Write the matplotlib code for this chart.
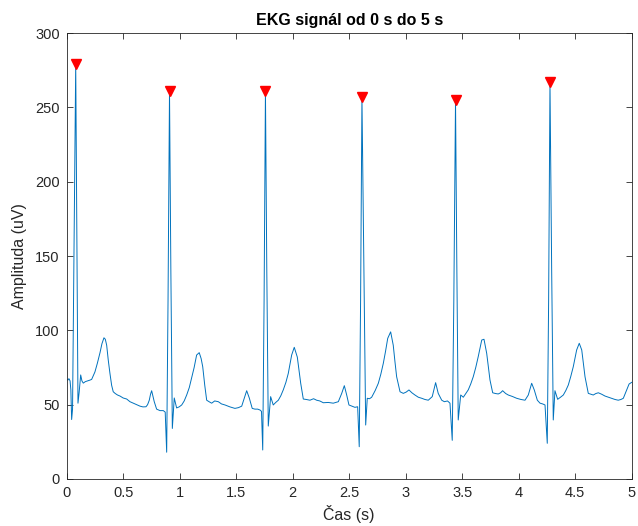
import matplotlib.pyplot as plt

# EKG samples (time in s, amplitude in uV)
t_s = [
    0.000, 0.010, 0.020, 0.030, 0.037, 0.044, 0.052, 0.062, 0.080, 0.090,
    0.100, 0.110, 0.124, 0.135, 0.147, 0.165, 0.185, 0.205, 0.221, 0.235,
    0.250, 0.272, 0.295, 0.312, 0.330, 0.342, 0.354, 0.368, 0.383, 0.398,
    0.412, 0.430, 0.450, 0.472, 0.500, 0.531, 0.560, 0.589, 0.620, 0.649,
    0.675, 0.702, 0.716, 0.731, 0.742, 0.752, 0.763, 0.775, 0.796, 0.826,
    0.855, 0.872, 0.885, 0.897, 0.910, 0.922, 0.935, 0.952, 0.973, 0.995,
    1.018, 1.040, 1.062, 1.085, 1.106, 1.128, 1.150, 1.173, 1.190, 1.204,
    1.222, 1.239, 1.260, 1.283, 1.310, 1.342, 1.370, 1.401, 1.445, 1.489,
    1.520, 1.549, 1.572, 1.593, 1.616, 1.642, 1.666, 1.690, 1.711, 1.724,
    1.735, 1.747, 1.759, 1.771, 1.784, 1.805, 1.828, 1.850, 1.873, 1.895,
    1.917, 1.940, 1.961, 1.991, 2.014, 2.041, 2.056, 2.071, 2.094, 2.120,
    2.153, 2.185, 2.212, 2.240, 2.271, 2.315, 2.359, 2.404, 2.434, 2.457,
    2.478, 2.498, 2.525, 2.551, 2.575, 2.589, 2.601, 2.613, 2.630, 2.646,
    2.660, 2.680, 2.699, 2.730, 2.758, 2.780, 2.802, 2.822, 2.841, 2.867,
    2.890, 2.905, 2.920, 2.950, 2.979, 3.005, 3.029, 3.055, 3.082, 3.112,
    3.142, 3.170, 3.200, 3.235, 3.265, 3.288, 3.319, 3.342, 3.370, 3.392,
    3.412, 3.426, 3.441, 3.453, 3.465, 3.487, 3.510, 3.532, 3.554, 3.576,
    3.598, 3.620, 3.642, 3.673, 3.693, 3.717, 3.732, 3.746, 3.770, 3.795,
    3.819, 3.840, 3.858, 3.885, 3.908, 3.945, 3.982, 4.020, 4.056, 4.085,
    4.115, 4.138, 4.165, 4.189, 4.212, 4.233, 4.253, 4.265, 4.277, 4.292,
    4.306, 4.321, 4.345, 4.370, 4.395, 4.417, 4.439, 4.461, 4.483, 4.513,
    4.536, 4.558, 4.572, 4.587, 4.616, 4.640, 4.660, 4.683, 4.705, 4.735,
    4.764, 4.795, 4.823, 4.852, 4.881, 4.905, 4.926, 4.956, 4.977, 5.000,
]
ekg_uv = [
    67.0, 66.5, 67.5, 66.0, 60.0, 40.0, 47.0, 130.0, 279.0, 160.0,
    51.0, 58.0, 70.0, 66.0, 64.5, 65.5, 66.0, 66.5, 67.0, 69.5,
    72.0, 78.0, 85.0, 91.0, 95.0, 94.0, 90.0, 80.0, 71.0, 63.0,
    58.7, 57.5, 56.5, 55.8, 54.5, 53.8, 52.0, 51.0, 50.0, 49.0,
    48.5, 48.6, 50.0, 53.0, 57.0, 59.4, 56.0, 52.0, 47.0, 46.0,
    46.0, 45.0, 18.0, 120.0, 261.0, 140.0, 34.0, 54.5, 47.8, 48.5,
    49.8, 52.5, 56.5, 61.5, 68.0, 75.0, 83.4, 85.0, 81.0, 75.5,
    63.0, 53.0, 52.0, 51.0, 52.5, 52.0, 50.5, 49.8, 48.5, 47.5,
    48.0, 49.0, 54.5, 59.4, 54.5, 47.5, 47.0, 47.0, 46.4, 45.5,
    19.5, 120.0, 261.0, 140.0, 35.6, 55.4, 49.8, 51.5, 53.0, 56.0,
    60.0, 65.0, 71.0, 83.4, 88.6, 82.0, 73.0, 64.4, 53.8, 53.5,
    53.0, 54.0, 53.0, 52.5, 51.3, 51.5, 51.0, 52.0, 57.6, 62.8,
    56.5, 49.8, 49.0, 48.2, 48.6, 21.7, 120.0, 257.0, 140.0, 36.3,
    54.3, 54.0, 55.0, 59.5, 64.4, 70.5, 77.8, 86.0, 94.6, 99.0,
    90.0, 79.0, 68.8, 58.7, 57.6, 58.5, 59.9, 58.0, 56.5, 55.0,
    54.3, 53.5, 53.0, 55.4, 64.8, 57.6, 53.0, 52.0, 52.5, 51.0,
    26.0, 120.0, 255.0, 140.0, 39.7, 56.5, 55.0, 57.5, 60.0, 64.0,
    68.8, 75.0, 82.3, 93.5, 94.0, 84.5, 75.0, 66.6, 58.0, 57.5,
    57.2, 58.0, 59.4, 57.5, 56.5, 55.5, 54.3, 53.5, 53.0, 56.5,
    64.4, 59.9, 53.0, 51.0, 50.5, 49.8, 24.0, 120.0, 267.0, 140.0,
    39.7, 59.4, 53.6, 55.0, 56.5, 59.5, 63.2, 69.0, 75.5, 86.8,
    91.3, 86.8, 78.0, 68.8, 57.6, 57.0, 56.5, 57.5, 58.0, 57.0,
    55.8, 55.0, 54.3, 53.5, 53.0, 53.5, 54.3, 59.9, 63.9, 65.0,
]

# detected R peaks
peak_t = [0.080, 0.910, 1.759, 2.613, 3.441, 4.277]
peak_uv = [279, 261, 261, 257, 255, 267]

x_ticks = [0, 0.5, 1, 1.5, 2, 2.5, 3, 3.5, 4, 4.5, 5]
x_labels = ['0', '0.5', '1', '1.5', '2', '2.5', '3', '3.5', '4', '4.5', '5']
y_ticks = [0, 50, 100, 150, 200, 250, 300]

plt.rcParams['font.family'] = ['Liberation Sans', 'DejaVu Sans']

fig = plt.figure(figsize=(6.38, 5.26), dpi=100)
ax = fig.add_axes([0.1045, 0.0894, 0.8856, 0.8476])

ax.plot(t_s, ekg_uv, color='#0072BD', linewidth=0.7)
ax.plot(peak_t, peak_uv, linestyle='none', marker='v', markersize=7.5,
        color='red', markeredgecolor='red')

ax.set_xlim(0, 5)
ax.set_ylim(0, 300)
ax.set_xticks(x_ticks)
ax.set_xticklabels(x_labels)
ax.set_yticks(y_ticks)

ax.tick_params(direction='in', top=True, right=True, length=4, width=0.6,
               colors='#262626', labelsize=10.5, pad=5)
for s in ax.spines.values():
    s.set_color('#262626')
    s.set_linewidth(0.6)

ax.set_title('EKG signál od 0 s do 5 s', fontsize=11.5, fontweight='bold',
             color='black', pad=6)
ax.set_xlabel('Čas (s)', fontsize=11.5, color='#262626', labelpad=4)
ax.set_ylabel('Amplituda (uV)', fontsize=11.5, color='#262626', labelpad=6)

fig.savefig('out.png', dpi=100)
